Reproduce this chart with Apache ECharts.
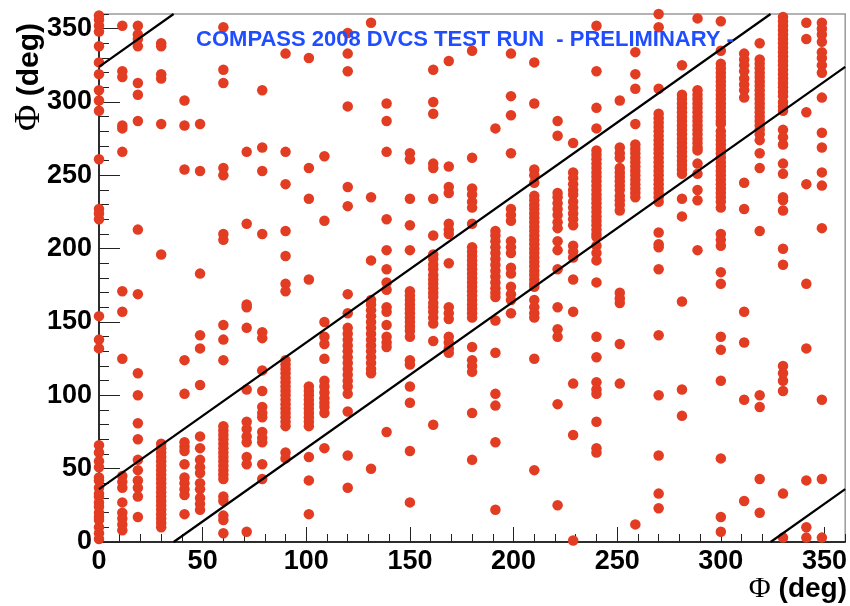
<!DOCTYPE html>
<html>
<head>
<meta charset="utf-8">
<script src="https://cdn.jsdelivr.net/npm/echarts@6/dist/echarts.min.js"></script>
<style>html,body{margin:0;padding:0;background:#fff}#c{width:850px;height:606px}</style>
</head>
<body>
<div id="c"></div>
<script>
// Column positions (deg)
const xCols = [0, 11.25, 18.75, 30, 41.25, 48.75, 60, 71.25, 78.75, 90, 101.25, 108.75, 120, 131.25, 138.75, 150, 161.25, 168.75, 180, 191.25, 198.75, 210, 221.25, 228.75, 240, 251.25, 258.75, 270, 281.25, 288.75, 300, 311.25, 318.75, 330, 341.25, 348.75];
// y values per column
const y000 = [359, 356, 352, 348, 338, 327, 319, 308, 301, 294, 261, 227, 224, 220, 154, 138, 132, 66, 61, 55, 51, 44, 42, 37, 33, 31, 27, 24, 20, 17, 15, 10, 6, 2];
const y011 = [352, 321, 317, 284, 282, 266, 171, 157, 125, 45, 41, 37, 27, 20, 16, 12, 8];
const y019 = [352, 346, 343, 338, 313, 305, 287, 213, 169, 115, 100, 81, 70, 56, 49, 42, 37, 31, 17];
const y030 = [340, 338, 319, 316, 285, 196, 67, 64, 61, 58, 55, 52, 49, 46, 43, 40, 37, 34, 31, 28, 25, 22, 19, 16, 13, 10];
const y041 = [301, 284, 254, 124, 101, 68, 65, 62, 53, 44, 40, 36, 32, 19];
const y049 = [285, 253, 183, 141, 132, 107, 72, 64, 56, 51, 47, 40, 36, 30, 26, 22];
const y060 = [351, 322, 313, 255, 250, 210, 206, 148, 138, 124, 79, 76, 73, 70, 67, 64, 61, 58, 55, 52, 49, 46, 43, 31, 28, 18, 15, 6];
const y071 = [266, 217, 162, 160, 146, 104, 82, 77, 72, 68, 58, 53, 7];
const y079 = [308, 269, 253, 210, 143, 139, 117, 103, 92, 88, 85, 75, 71, 68, 53, 43];
const y090 = [333, 266, 244, 212, 195, 176, 171, 124, 121, 118, 115, 112, 109, 106, 103, 100, 97, 94, 91, 88, 85, 82, 79, 61, 57];
const y101 = [330, 255, 234, 179, 106, 103, 100, 97, 94, 91, 88, 85, 82, 79, 58, 42, 19];
const y109 = [263, 219, 150, 140, 135, 125, 110, 106, 102, 98, 95, 92, 88, 64];
const y120 = [347, 333, 321, 297, 242, 229, 169, 156, 146, 142, 138, 134, 130, 126, 122, 118, 114, 110, 106, 101, 89, 59, 37];
const y131 = [354, 235, 192, 165, 162, 158, 154, 150, 146, 142, 138, 134, 130, 126, 122, 118, 115, 50];
const y139 = [299, 287, 266, 220, 199, 186, 177, 172, 160, 157, 148, 140, 136, 133, 75];
const y150 = [265, 261, 234, 216, 199, 171, 168, 165, 162, 159, 156, 153, 150, 147, 144, 140, 124, 121, 106, 95, 62, 27];
const y161 = [322, 300, 292, 258, 255, 234, 209, 196, 193, 189, 186, 182, 179, 176, 173, 170, 167, 163, 160, 157, 153, 149, 137, 80];
const y169 = [328, 256, 242, 238, 217, 213, 210, 190, 160, 156, 152, 140, 136, 132, 129];
const y180 = [335, 262, 241, 237, 232, 228, 217, 201, 198, 195, 192, 189, 186, 183, 180, 177, 174, 171, 168, 165, 162, 159, 156, 153, 133, 124, 120, 116, 88, 56];
const y191 = [282, 212, 209, 205, 201, 197, 193, 189, 185, 181, 177, 173, 170, 167, 151, 129, 101, 93, 68, 22];
const y199 = [333, 304, 291, 265, 227, 223, 219, 205, 201, 197, 187, 183, 174, 169, 165, 156];
const y210 = [327, 299, 254, 250, 245, 236, 233, 230, 227, 224, 221, 218, 215, 212, 209, 206, 203, 200, 197, 194, 191, 188, 185, 182, 179, 176, 174, 165, 160, 156, 153, 125, 49];
const y221 = [287, 277, 238, 235, 231, 227, 223, 218, 214, 205, 199, 186, 160, 145, 140, 94, 25];
const y229 = [272, 252, 248, 244, 240, 237, 232, 228, 224, 220, 216, 202, 198, 194, 179, 157, 108, 73, 1];
const y240 = [352, 321, 296, 282, 267, 264, 261, 258, 255, 252, 249, 246, 243, 240, 237, 234, 231, 228, 225, 222, 219, 216, 213, 210, 208, 202, 197, 192, 177, 140, 126, 109, 104, 101, 82, 64, 61];
const y251 = [301, 269, 265, 262, 255, 252, 249, 246, 243, 240, 236, 233, 230, 226, 170, 166, 163, 135, 108];
const y259 = [334, 319, 309, 285, 271, 268, 265, 262, 259, 256, 253, 250, 247, 244, 241, 238, 235, 12];
const y270 = [360, 351, 309, 292, 289, 286, 283, 280, 277, 274, 271, 268, 265, 262, 259, 256, 253, 250, 247, 244, 241, 238, 235, 232, 211, 203, 201, 186, 141, 100, 59, 33, 23];
const y281 = [325, 305, 302, 299, 296, 293, 290, 287, 284, 281, 278, 275, 272, 269, 266, 263, 260, 257, 254, 251, 234, 222, 164, 104, 86];
const y289 = [357, 308, 305, 302, 299, 296, 293, 290, 287, 284, 281, 278, 275, 272, 269, 267, 258, 251, 240, 233, 199];
const y300 = [355, 335, 326, 323, 320, 317, 314, 311, 308, 305, 302, 299, 296, 293, 290, 287, 285, 280, 277, 274, 271, 268, 265, 262, 259, 256, 253, 250, 247, 244, 241, 238, 235, 232, 228, 210, 206, 202, 184, 176, 140, 131, 110, 57, 17, 7];
const y311 = [333, 329, 325, 321, 316, 312, 308, 303, 245, 227, 157, 136, 97, 28];
const y319 = [340, 329, 326, 323, 320, 317, 314, 311, 308, 305, 302, 299, 296, 293, 290, 287, 284, 281, 278, 274, 265, 255, 212, 100, 92, 43, 20];
const y330 = [358, 355, 352, 349, 346, 343, 340, 337, 334, 331, 328, 325, 322, 319, 316, 313, 310, 307, 304, 300, 297, 294, 281, 276, 271, 258, 251, 235, 233, 226, 200, 189, 120, 115, 110, 103, 33, 3];
const y341 = [354, 343, 293, 244, 176, 132, 42, 10, 3];
const y349 = [354, 350, 346, 341, 334, 330, 325, 320, 303, 279, 269, 252, 243, 214, 97, 43, 3];

const yCols = [y000, y011, y019, y030, y041, y049, y060, y071, y079, y090, y101, y109, y120, y131, y139, y150, y161, y169, y180, y191, y199, y210, y221, y229, y240, y251, y259, y270, y281, y289, y300, y311, y319, y330, y341, y349];

// band boundary lines (deg)
const lineUpper = [[0, 36], [324, 360]];
const lineLower = [[36, 0], [360, 324]];
const lineWrapTop = [[0, 324], [36, 360]];
const lineWrapBottom = [[324, 0], [360, 36]];

const xTickLabels = [0, 50, 100, 150, 200, 250, 300, 350];
const yTickLabels = [0, 50, 100, 150, 200, 250, 300, 350];

const titleText = 'COMPASS 2008 DVCS TEST RUN  - PRELIMINARY -';

const points = [];
xCols.forEach((x, i) => yCols[i].forEach(y => points.push([x, y])));

const chart = echarts.init(document.getElementById('c'), null, {renderer: 'canvas'});
const FONT = '"Liberation Sans", Arial, Helvetica, sans-serif';
const lblFmt = arr => v => arr.indexOf(v) >= 0 ? String(v) : '';

const lineSeries = (d) => ({
  type: 'line', data: d, xAxisIndex: 0, yAxisIndex: 0, symbol: 'none', silent: true,
  lineStyle: {color: '#000', width: 2.2}, z: 3, animation: false
});

chart.setOption({
  animation: false,
  backgroundColor: '#fff',
  grid: {left: 99, right: 2, top: 14, bottom: 64, show: true, borderColor: '#9a9a9a', borderWidth: 1.5, containLabel: false},
  xAxis: [
    {type: 'value', min: 0, max: 360, interval: 50, position: 'bottom',
     axisLine: {show: true, onZero: false, lineStyle: {color: '#000', width: 1.5}},
     axisTick: {show: true, inside: true, length: 15, lineStyle: {color: '#222', width: 1}},
     axisLabel: {show: true, margin: 6, formatter: lblFmt(xTickLabels), color: '#000', fontSize: 27, fontWeight: 'bold', fontFamily: FONT, showMaxLabel: false},
     splitLine: {show: false}},
    {type: 'value', min: 0, max: 360, interval: 10, position: 'bottom',
     axisLine: {show: false, onZero: false},
     axisTick: {show: true, inside: true, length: 8, lineStyle: {color: '#222', width: 1}},
     axisLabel: {show: false}, splitLine: {show: false}}
  ],
  yAxis: [
    {type: 'value', min: 0, max: 360, interval: 50, position: 'left',
     axisLine: {show: true, onZero: false, lineStyle: {color: '#000', width: 1.5}},
     axisTick: {show: true, inside: true, length: 21, lineStyle: {color: '#222', width: 1}},
     axisLabel: {show: true, margin: 7, formatter: lblFmt(yTickLabels), color: '#000', fontSize: 27, fontWeight: 'bold', fontFamily: FONT, showMaxLabel: false},
     splitLine: {show: false}},
    {type: 'value', min: 0, max: 360, interval: 10, position: 'left',
     axisLine: {show: false, onZero: false},
     axisTick: {show: true, inside: true, length: 10, lineStyle: {color: '#222', width: 1}},
     axisLabel: {show: false}, splitLine: {show: false}}
  ],
  series: [
    {type: 'scatter', data: points, xAxisIndex: 0, yAxisIndex: 0, symbol: 'circle', symbolSize: 10.5,
     clip: false, itemStyle: {color: '#e23c22', opacity: 1}, z: 2, silent: true},
    lineSeries(lineUpper), lineSeries(lineLower), lineSeries(lineWrapTop), lineSeries(lineWrapBottom)
  ],
  graphic: [
    {type: 'text', z: 100, style: {text: titleText, x: 465, y: 40, align: 'center', verticalAlign: 'middle',
      fill: '#1f4dff', font: 'bold 22px ' + FONT}},
    {type: 'text', z: 100, style: {
      text: '{p|Φ}{b| (deg)}', x: 847, y: 604, align: 'right', verticalAlign: 'bottom',
      rich: {p: {fontFamily: '"Liberation Serif", "DejaVu Serif", serif', fontSize: 30, fill: '#000'},
             b: {fontFamily: FONT, fontWeight: 'bold', fontSize: 28, fill: '#000'}}}},
    {type: 'text', z: 100, x: 30, y: 77, rotation: Math.PI / 2, style: {
      text: '{p|Φ}{b| (deg)}', x: 0, y: 0, align: 'center', verticalAlign: 'middle',
      rich: {p: {fontFamily: '"Liberation Serif", "DejaVu Serif", serif', fontSize: 36, fill: '#000'},
             b: {fontFamily: FONT, fontWeight: 'bold', fontSize: 30, fill: '#000'}}}}
  ]
});
</script>
</body>
</html>
